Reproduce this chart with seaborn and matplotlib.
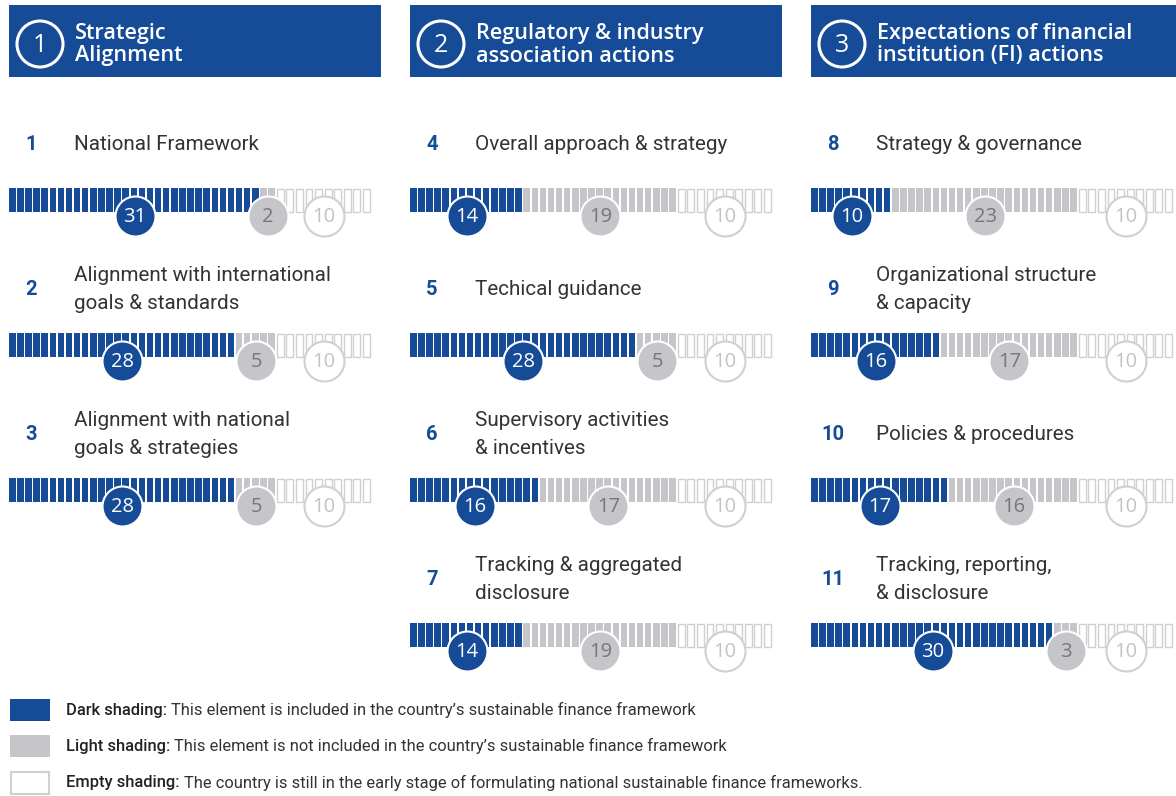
import matplotlib
matplotlib.use("Agg")
import matplotlib.pyplot as plt
import seaborn as sns
import pandas as pd
from matplotlib.patches import Circle, Rectangle

sns.set_theme(style="white")
plt.rcParams['font.family'] = ['Roboto', 'DejaVu Sans']

# ---------------- data ----------------
pillar_numbers = ["1", "2", "3"]
pillar_titles = ["Strategic\nAlignment",
                 "Regulatory & industry\nassociation actions",
                 "Expectations of financial\ninstitution (FI) actions"]

item_ids = [["1", "2", "3"],
            ["4", "5", "6", "7"],
            ["8", "9", "10", "11"]]
item_labels = [["National Framework",
                "Alignment with international\ngoals & standards",
                "Alignment with national\ngoals & strategies"],
               ["Overall approach & strategy",
                "Techical guidance",
                "Supervisory activities\n& incentives",
                "Tracking & aggregated\ndisclosure"],
               ["Strategy & governance",
                "Organizational structure\n& capacity",
                "Policies & procedures",
                "Tracking, reporting,\n& disclosure"]]
included = [[31, 28, 28], [14, 28, 16, 14], [10, 16, 17, 30]]
not_included = [[2, 5, 5], [19, 5, 17, 19], [23, 17, 16, 3]]
early_stage = [[10, 10, 10], [10, 10, 10, 10], [10, 10, 10, 10]]

legend_terms = ["Dark shading:", "Light shading:", "Empty shading:"]
legend_texts = ["This element is included in the country\u2019s sustainable finance framework",
                "This element is not included in the country\u2019s sustainable finance framework",
                "The country is still in the early stage of formulating national sustainable finance frameworks."]

# ---------------- style ----------------
DARK = "#164C97"
LIGHT = "#C6C5C9"
EMPTY_EDGE = "#D0D0D0"
TEXT = "#333333"

W, H = 1176, 796
fig = plt.figure(figsize=(W / 100, H / 100), dpi=100)
ax = fig.add_axes([0, 0, 1, 1])
ax.set_xlim(0, W)
ax.set_ylim(H, 0)
ax.axis("off")

col_x = [9, 410, 811]
col_w = 372
bar_len = 363
filled_cell = 8.1
row_y0, row_step = 143, 145

circ_rows = []
for c in range(3):
    x0 = col_x[c]
    # header
    ax.add_patch(Rectangle((x0, 5), col_w, 72, facecolor=DARK, edgecolor="none"))
    ax.add_patch(Circle((x0 + 31, 44), 23, facecolor="none", edgecolor="white", lw=2.2))
    ax.text(x0 + 31, 45, pillar_numbers[c], color="white", fontsize=18,
            ha="center", va="center", family=["Open Sans", "DejaVu Sans"])
    l1, l2 = pillar_titles[c].split("\n")
    for yy, tt in ((33, l1), (56, l2)):
        ax.text(x0 + 66, yy, tt, color="white", fontsize=15.6, fontweight="semibold",
                ha="left", va="center", family=["Open Sans", "DejaVu Sans"])

    for r in range(len(item_ids[c])):
        yc = row_y0 + r * row_step
        ax.text(x0 + 22, yc + 1.5, item_ids[c][r], color=DARK, fontsize=14.5, fontweight="bold",
                ha="center", va="center")
        lines = item_labels[c][r].split("\n")
        offs = [0] if len(lines) == 1 else [-14, 14]
        for ln, off in zip(lines, offs):
            ax.text(x0 + 65, yc + off + 1.5, ln, color=TEXT, fontsize=14.9,
                    ha="left", va="center")

        d, l, e = included[c][r], not_included[c][r], early_stage[c][r]
        top = yc + 45
        xs_f = [x0 + i * filled_cell for i in range(d + l)]
        ecell = (bar_len - (d + l) * filled_cell) / e
        xs_e = [x0 + (d + l) * filled_cell + i * ecell for i in range(e)]
        ax.bar(xs_f[:d], 24, width=filled_cell - 1.6, bottom=top, align="edge", color=DARK, linewidth=0)
        ax.bar(xs_f[d:], 24, width=filled_cell - 1.6, bottom=top, align="edge", color=LIGHT, linewidth=0)
        ax.bar([v + 0.5 for v in xs_e], 23, width=ecell - 2.6, bottom=top + 0.5, align="edge",
               color="white", edgecolor=EMPTY_EDGE, linewidth=1.0)

        cy = top + 28
        circ_rows.append(dict(x=x0 + d * filled_cell / 2, y=cy, kind="dark", val=d))
        circ_rows.append(dict(x=x0 + (d + l / 2) * filled_cell, y=cy, kind="light", val=l))
        circ_rows.append(dict(x=x0 + (d + l) * filled_cell + e * ecell / 2, y=cy, kind="empty", val=e))

circ = pd.DataFrame(circ_rows)
styles = {"dark": (DARK, "white", "white"),
          "light": (LIGHT, "white", "#77757F"),
          "empty": ("white", EMPTY_EDGE, "#C4C2C8")}
for kind, (fc, ec, tc) in styles.items():
    sub = circ[circ["kind"] == kind]
    sns.scatterplot(data=sub, x="x", y="y", ax=ax, s=(40 * 72 / 100) ** 2,
                    color=fc, edgecolor=ec, linewidth=1.5, legend=False, zorder=5)
    for _, row in sub.iterrows():
        ax.text(row["x"], row["y"] + 1, str(row["val"]), color=tc, fontsize=14.5,
                ha="center", va="center", zorder=6, family=["Open Sans", "DejaVu Sans"])

ax.set_xlim(0, W)
ax.set_ylim(H, 0)
ax.set_xlabel("")
ax.set_ylabel("")

# legend
leg_y = [710, 746, 783]
ax.bar([10], [22], width=40, bottom=leg_y[0] - 11, align="edge", color=DARK, linewidth=0)
ax.bar([10], [22], width=40, bottom=leg_y[1] - 11, align="edge", color=LIGHT, linewidth=0)
ax.bar([10.75], [21.5], width=38.5, bottom=leg_y[2] - 10.75, align="edge", color="white",
       edgecolor=EMPTY_EDGE, linewidth=1.5)

renderer = fig.canvas.get_renderer()
for i in range(3):
    t = ax.text(66, leg_y[i], legend_terms[i], fontsize=11.9, fontweight="medium",
                color="#222222", ha="left", va="center")
    bb = t.get_window_extent(renderer)
    ax.text(bb.x1 + 4, leg_y[i], legend_texts[i], fontsize=11.9, color="#333333",
            ha="left", va="center")

fig.savefig("out.png", dpi=100)
